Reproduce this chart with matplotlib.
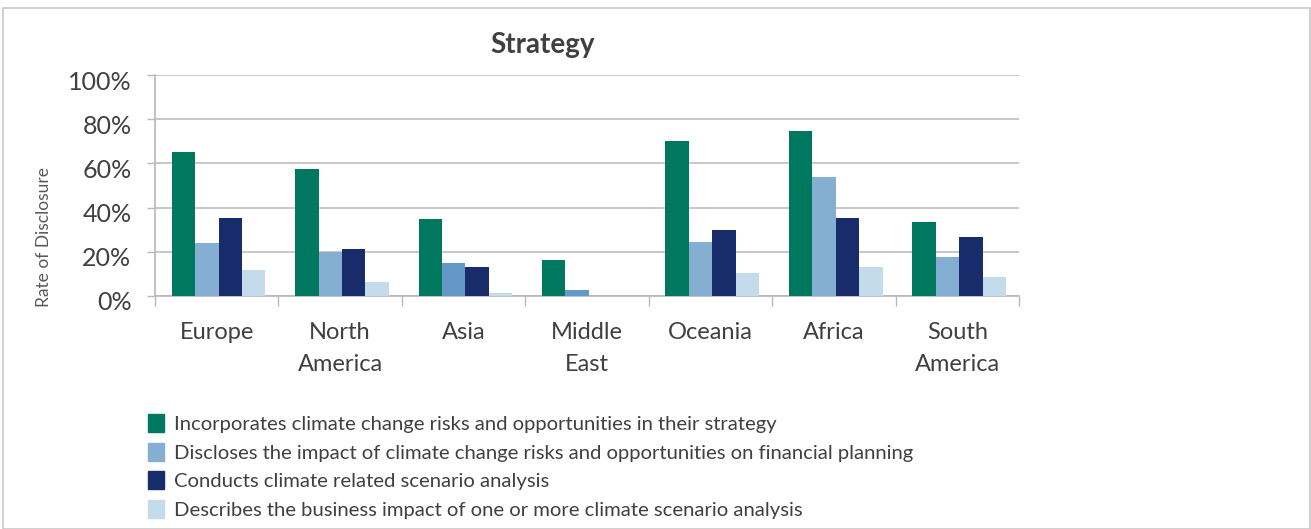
import matplotlib
matplotlib.use('Agg')
from matplotlib import pyplot as plt
from matplotlib.patches import Patch, Rectangle
from matplotlib.transforms import ScaledTranslation
import numpy as np

categories = ['Europe', 'North\nAmerica', 'Asia', 'Middle\nEast', 'Oceania', 'Africa', 'South\nAmerica']
incorporates = [65.1, 57.5, 34.9, 16.4, 70.1, 74.6, 33.5]
discloses = [24.1, 20.0, 15.0, 2.9, 24.5, 53.9, 17.7]
scenario = [35.3, 21.4, 13.2, 0, 29.9, 35.3, 26.7]
describes = [11.9, 6.5, 1.5, 0, 10.5, 13.2, 8.7]
series_names = ['Incorporates climate change risks and opportunities in their strategy',
                'Discloses the impact of climate change risks and opportunities on financial planning',
                'Conducts climate related scenario analysis',
                'Describes the business impact of one or more climate scenario analysis']
yticks = [0, 20, 40, 60, 80, 100]

plt.rcParams['font.family'] = ['Lato', 'DejaVu Sans']

green = '#00775f'
lblue = '#84aed2'
mblue = '#6499c7'
navy = '#182b6b'
pale = '#c3dbea'
text_col = '#404040'
grid_col = '#c4c4c4'

fig = plt.figure(figsize=(13.11, 5.29), dpi=100)
ax = fig.add_axes([155 / 1311, 1 - 296 / 529, 864 / 1311, 221 / 529])

x = np.arange(len(categories))
w = 0.19
# Asia and Middle East use a slightly darker blue in the original
disc_colors = [mblue if c in ('Asia', 'Middle\nEast') else lblue for c in categories]
ax.bar(x - 1.5 * w + 0.015, incorporates, w, color=green, zorder=3)
ax.bar(x - 0.5 * w + 0.015, discloses, w, color=disc_colors, zorder=3)
ax.bar(x + 0.5 * w + 0.015, scenario, w, color=navy, zorder=3)
ax.bar(x + 1.5 * w + 0.015, describes, w, color=pale, zorder=3)

ax.set_xlim(-0.5, len(categories) - 0.5)
ax.set_ylim(0, 100)
ax.set_yticks(yticks)
ax.set_yticklabels(['{}%'.format(v) for v in yticks])
ax.yaxis.grid(True, color=grid_col, linewidth=1.3, zorder=0)
ax.set_xticks(x)
ax.set_xticklabels(categories, fontsize=17, color=text_col, linespacing=1.6)
ax.set_xticks(np.arange(len(categories) + 1) - 0.5, minor=True)
ax.tick_params(axis='x', which='major', length=0, pad=19)
ax.tick_params(axis='x', which='minor', length=7, width=1, color='#b8b8b8')
ax.tick_params(axis='y', length=6, width=1, color='#b8b8b8', labelsize=18,
               labelcolor=text_col, pad=11)
for lab in ax.get_yticklabels():
    lab.set_transform(lab.get_transform() + ScaledTranslation(0, -0.05, fig.dpi_scale_trans))

for s in ['top', 'right']:
    ax.spines[s].set_visible(False)
for s in ['left', 'bottom']:
    ax.spines[s].set_color('#b8b8b8')
    ax.spines[s].set_linewidth(1.2)

ax.set_ylabel('Rate of Disclosure', fontsize=12.5, color='#595959', va='center')
ax.yaxis.set_label_coords(-0.129, 0.267)

fig.text(543 / 1311, 1 - 45 / 529, 'Strategy', fontsize=20, fontweight='bold',
         color=text_col, ha='center', va='center')

handles = [Patch(color=green), Patch(color=lblue), Patch(color=navy), Patch(color=pale)]
fig.legend(handles, series_names, loc='upper left',
           bbox_to_anchor=(148 / 1311, 1 - 414 / 529), frameon=False,
           fontsize=14.6, labelcolor=text_col, handlelength=0.8, handleheight=1.0,
           handletextpad=0.5, labelspacing=0.47, borderpad=0, borderaxespad=0)

fig.patches.append(Rectangle((3 / 1311, 0), 1307 / 1311, 1 - 8 / 529,
                             transform=fig.transFigure, fill=False,
                             edgecolor='#c8c8c8', linewidth=1.2))

plt.savefig('out.png', dpi=100)
